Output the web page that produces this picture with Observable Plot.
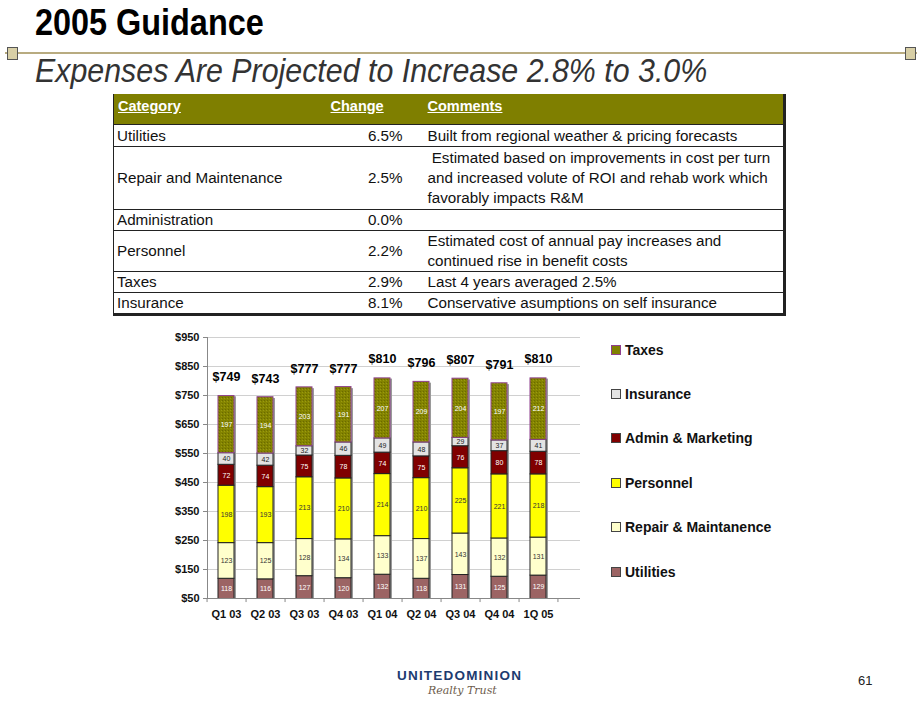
<!DOCTYPE html>
<html>
<head>
<meta charset="utf-8">
<script src="https://cdn.jsdelivr.net/npm/d3@7"></script>
<script src="https://cdn.jsdelivr.net/npm/@observablehq/plot@0.6"></script>
<style>
  html, body { margin: 0; padding: 0; background: #fff; }
  #page { position: relative; width: 922px; height: 702px; overflow: hidden; font-family: "Liberation Sans", Arial, sans-serif; }
  .abs { position: absolute; }
  #title { left: 35px; top: 2px; font-size: 36px; font-weight: bold; color: #000; transform: scaleX(0.9); transform-origin: left top; white-space: nowrap; }
  #subtitle { left: 35px; top: 52px; font-size: 33px; font-style: italic; color: #333; transform: scaleX(0.92); transform-origin: left top; white-space: nowrap; }
  #rule { left: 5px; top: 52px; width: 912px; height: 2px; background: #b8ab80; }
  .knob { width: 9px; height: 11px; background: #d8cfa6; border: 1px solid #555; top: 47px; }
  table { border-collapse: collapse; table-layout: fixed; font-family: "Liberation Sans", Arial, sans-serif; font-size: 15.2px; color: #111; }
  td { padding: 0; white-space: nowrap; vertical-align: middle; line-height: 20px; overflow: visible; }
  tr.row td { border-top: 1px solid #222; }
  th { background: #7f7f00; color: #fff; font-weight: bold; text-decoration: underline; text-align: left; height: 30px; padding: 0; vertical-align: top; line-height: 24px; font-size: 14.5px; }
  .legend-item { position: absolute; left: 611px; font-size: 14px; font-weight: bold; color: #111; white-space: nowrap; line-height: 16px; }
  .legend-item span.sw { display: inline-block; width: 8px; height: 8px; border: 1px solid #444; margin-right: 4px; vertical-align: 0px; }
</style>
</head>
<body>
<div id="page">
  <div id="title" class="abs">2005 Guidance</div>
  <div id="rule" class="abs"></div>
  <div class="abs knob" style="left:7px"></div>
  <div class="abs knob" style="left:905px"></div>
  <div id="subtitle" class="abs">Expenses Are Projected to Increase 2.8% to 3.0%</div>
  <div id="tablewrap" class="abs" style="left:113px;top:94px;"></div>
  <div id="chart" class="abs" style="left:150px;top:325px;"></div>
  <div id="legend"></div>
  <div class="abs" style="left:397px;top:668px;font-size:13.5px;font-weight:bold;color:#1d3b6f;letter-spacing:1.2px;white-space:nowrap;">UNITEDOMINION</div>
  <div class="abs" style="left:428px;top:684px;font-size:11px;font-style:italic;font-family:'DejaVu Serif',serif;color:#6d5c4c;white-space:nowrap;">Realty Trust</div>
  <div class="abs" style="left:858px;top:673px;font-size:13px;color:#222;">61</div>
</div>
<script>
// ---- Table data ----
const tableCategories = ["Utilities", "Repair and Maintenance", "Administration", "Personnel", "Taxes", "Insurance"];
const tableChanges = ["6.5%", "2.5%", "0.0%", "2.2%", "2.9%", "8.1%"];
const tableComments = [
  ["Built from regional weather & pricing forecasts"],
  ["\u00a0Estimated based on improvements in cost per turn", "and increased volute of ROI and rehab work which", "favorably impacts R&M"],
  [""],
  ["Estimated cost of annual pay increases and", "continued rise in benefit costs"],
  ["Last 4 years averaged 2.5%"],
  ["Conservative asumptions on self insurance"]
];
const tableHeaders = ["Category", "Change", "Comments"];

// ---- Chart data ----
const quarters = ["Q1 03", "Q2 03", "Q3 03", "Q4 03", "Q1 04", "Q2 04", "Q3 04", "Q4 04", "1Q 05"];
const utilities = [118, 116, 127, 120, 132, 118, 131, 125, 129];
const repair    = [123, 125, 128, 134, 133, 137, 143, 132, 131];
const personnel = [198, 193, 213, 210, 214, 210, 225, 221, 218];
const admin     = [72, 74, 75, 78, 74, 75, 76, 80, 78];
const insurance = [40, 42, 32, 46, 49, 48, 29, 37, 41];
const taxes     = [197, 194, 203, 191, 207, 209, 204, 197, 212];
const totals    = [749, 743, 777, 777, 810, 796, 807, 791, 810];
const seriesNames = ["Utilities", "Repair & Maintanence", "Personnel", "Admin & Marketing", "Insurance", "Taxes"];
const legendOrder = ["Taxes", "Insurance", "Admin & Marketing", "Personnel", "Repair & Maintanence", "Utilities"];
const yTicks = [50, 150, 250, 350, 450, 550, 650, 750, 850, 950];

// ---- Styles ----
const fills = {"Utilities": "#9c6464", "Repair & Maintanence": "#ffffcc", "Personnel": "#ffff00", "Admin & Marketing": "#800000", "Insurance": "#e3e3e3", "Taxes": "url(#olivePat)"};
const swatch = {"Utilities": "#9c6464", "Repair & Maintanence": "#ffffcc", "Personnel": "#ffff00", "Admin & Marketing": "#800000", "Insurance": "#e3e3e3", "Taxes": "#808000"};
const strokes = {"Taxes": "#8e3f8e"};
const labelColors = {"Utilities": "#fff", "Repair & Maintanence": "#333", "Personnel": "#333", "Admin & Marketing": "#fff", "Insurance": "#222", "Taxes": "#fff"};

// ---- Build table ----
(function(){
  const t = document.createElement("table");
  t.style.width = "671px";
  t.style.borderLeft = "1px solid #222";
  t.style.borderRight = "3px solid #222";
  t.style.borderBottom = "3px solid #222";
  const cg = document.createElement("colgroup");
  [213, 76, 382].forEach(w => { const c = document.createElement("col"); c.style.width = w + "px"; cg.appendChild(c); });
  t.appendChild(cg);
  const hr = document.createElement("tr");
  tableHeaders.forEach((h, i) => {
    const th = document.createElement("th");
    th.textContent = h;
    if (i === 0) th.style.paddingLeft = "4px";
    if (i === 1) th.style.paddingLeft = "4px";
    if (i === 2) th.style.paddingLeft = "25px";
    hr.appendChild(th);
  });
  t.appendChild(hr);
  const heights = [22, 63, 20, 39, 20, 19];
  tableCategories.forEach((c, i) => {
    const tr = document.createElement("tr");
    tr.className = "row";
    tr.style.height = heights[i] + "px";
    const a = document.createElement("td"); a.textContent = c; a.style.paddingLeft = "3px";
    const b = document.createElement("td"); b.textContent = tableChanges[i]; b.style.textAlign = "right";
    const d = document.createElement("td"); d.innerHTML = tableComments[i].map(s => s.replace(/&/g, "&amp;")).join("<br>"); d.style.paddingLeft = "25px";
    tr.append(a, b, d);
    t.appendChild(tr);
  });
  document.getElementById("tablewrap").appendChild(t);
})();

// ---- Stack rows ----
const seriesValues = [utilities, repair, personnel, admin, insurance, taxes];
const rows = [];
quarters.forEach((q, i) => {
  let base = 0;
  seriesNames.forEach((s, k) => {
    const v = seriesValues[k][i];
    rows.push({quarter: q, series: s, value: v, y1: base, y2: base + v});
    base += v;
  });
});
const totalRows = quarters.map((q, i) => ({quarter: q, total: totals[i]}));
const yMin = yTicks[0];

const chart = Plot.plot({
  width: 440,
  height: 300,
  marginLeft: 57,
  marginRight: 10,
  marginTop: 12,
  marginBottom: 27,
  style: {fontFamily: "'Liberation Sans', Arial, sans-serif", fontSize: "11px", fontWeight: "bold", color: "#111", background: "transparent"},
  x: {domain: quarters, range: [57, 408], paddingInner: 0.58, paddingOuter: 0.29, label: null},
  y: {domain: [yTicks[0], yTicks[yTicks.length - 1]], label: null},
  color: {domain: seriesNames, range: seriesNames.map(s => fills[s])},
  marks: [
    Plot.gridY(yTicks.slice(1), {stroke: "#d0d0d0", strokeOpacity: 1}),
    Plot.ruleY([yMin], {stroke: "#888"}),
    Plot.frame({anchor: "left", stroke: "#888"}),
    Plot.axisY(yTicks, {tickFormat: d => "$" + d, tickSize: 4, tickPadding: 4, stroke: "#888", fontWeight: "bold"}),
    Plot.axisX({tickSize: 0, tickPadding: 12, fontWeight: "bold"}),
    Plot.ruleX(quarters, {x: d => d, y1: yMin, y2: yMin - 14, dx: -19.45, stroke: "#888"}),
    Plot.ruleX(quarters.slice(-1), {x: d => d, y1: yMin, y2: yMin - 14, dx: 19.45, stroke: "#888"}),
    // shadow
    Plot.barY(totalRows, {x: "quarter", y1: 0, y2: "total", fill: "#9a9a9a", dx: 2, dy: 1, clip: true}),
    Plot.barY(rows, {x: "quarter", y1: "y1", y2: "y2", fill: "series", stroke: d => strokes[d.series] || "#222", strokeWidth: 1, clip: true}),
    Plot.text(rows, {x: "quarter", y: d => (Math.max(d.y1, yMin) + d.y2) / 2, text: d => String(d.value), fill: d => labelColors[d.series], fontSize: 7, fontWeight: "normal"}),
    Plot.text(totalRows, {x: "quarter", y: "total", text: d => "$" + d.total, dy: -19, fontSize: 12.5, fontWeight: "bold", fill: "#000"})
  ]
});

// pattern for taxes
const ns = "http://www.w3.org/2000/svg";
const defs = document.createElementNS(ns, "defs");
defs.innerHTML = '<pattern id="olivePat" width="3" height="3" patternUnits="userSpaceOnUse"><rect width="3" height="3" fill="#838300"/><rect x="0" y="0" width="1" height="1" fill="#6a6a00"/><rect x="2" y="1" width="1" height="1" fill="#9a9a10"/></pattern>';
chart.insertBefore(defs, chart.firstChild);
document.getElementById("chart").appendChild(chart);

// legend
const legendTops = [342, 386, 430, 475, 519, 564];
legendOrder.forEach((s, i) => {
  const d = document.createElement("div");
  d.className = "legend-item";
  d.style.top = legendTops[i] + "px";
  const sw = document.createElement("span");
  sw.className = "sw";
  sw.style.background = swatch[s];
  if (strokes[s]) sw.style.borderColor = strokes[s];
  d.appendChild(sw);
  d.appendChild(document.createTextNode(s));
  document.getElementById("legend").appendChild(d);
});
</script>
</body>
</html>
